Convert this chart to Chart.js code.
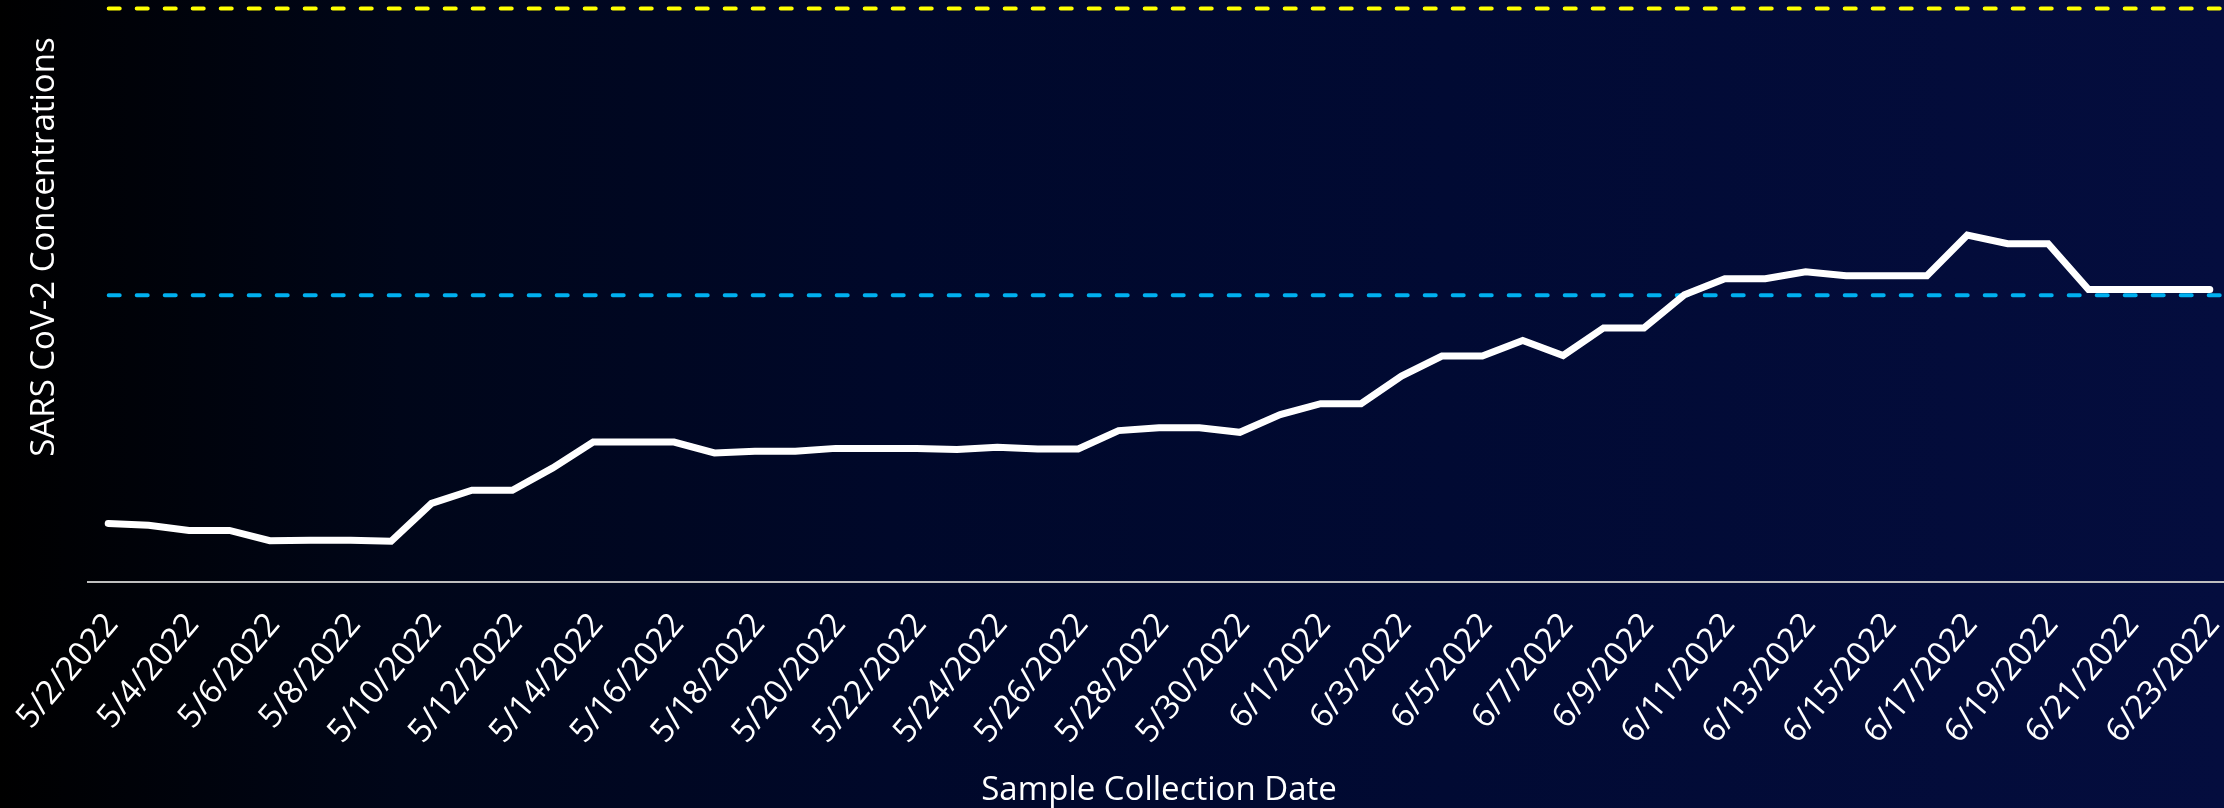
<!DOCTYPE html>
<html>
<head>
<meta charset="utf-8">
<script src="https://cdn.jsdelivr.net/npm/chart.js@4.4.0/dist/chart.umd.min.js"></script>
<style>
  html, body { margin: 0; padding: 0; width: 2224px; height: 808px; overflow: hidden; }
  body {
    position: relative;
    background: linear-gradient(to right, #000000 0%, #000619 18%, #00082a 40%, #010a33 65%, #040d3e 100%);
  }
  #c { position: absolute; left: 0; top: -88px; }
</style>
</head>
<body>
<canvas id="c" width="2230" height="902"></canvas>
<script>
// ---- data ----
const dates = [
  '5/2/2022','5/3/2022','5/4/2022','5/5/2022','5/6/2022','5/7/2022','5/8/2022','5/9/2022',
  '5/10/2022','5/11/2022','5/12/2022','5/13/2022','5/14/2022','5/15/2022','5/16/2022','5/17/2022',
  '5/18/2022','5/19/2022','5/20/2022','5/21/2022','5/22/2022','5/23/2022','5/24/2022','5/25/2022',
  '5/26/2022','5/27/2022','5/28/2022','5/29/2022','5/30/2022','5/31/2022','6/1/2022','6/2/2022',
  '6/3/2022','6/4/2022','6/5/2022','6/6/2022','6/7/2022','6/8/2022','6/9/2022','6/10/2022',
  '6/11/2022','6/12/2022','6/13/2022','6/14/2022','6/15/2022','6/16/2022','6/17/2022','6/18/2022',
  '6/19/2022','6/20/2022','6/21/2022','6/22/2022','6/23/2022'
];
const concentration = [
  10.2, 9.9, 9.0, 9.0, 7.2, 7.3, 7.3, 7.1,
  13.7, 16.0, 16.0, 19.9, 24.4, 24.4, 24.4, 22.5,
  22.8, 22.8, 23.3, 23.3, 23.3, 23.1, 23.5, 23.2,
  23.2, 26.4, 26.9, 26.9, 26.1, 29.2, 31.1, 31.1,
  35.9, 39.4, 39.4, 42.1, 39.5, 44.3, 44.3, 50.1,
  52.9, 52.9, 54.1, 53.4, 53.4, 53.4, 60.5, 59.0,
  59.0, 51.0, 51.0, 51.0, 51.0
];
const tickLabels = [
  '5/2/2022','5/4/2022','5/6/2022','5/8/2022','5/10/2022','5/12/2022','5/14/2022',
  '5/16/2022','5/18/2022','5/20/2022','5/22/2022','5/24/2022','5/26/2022','5/28/2022',
  '5/30/2022','6/1/2022','6/3/2022','6/5/2022','6/7/2022','6/9/2022','6/11/2022',
  '6/13/2022','6/15/2022','6/17/2022','6/19/2022','6/21/2022','6/23/2022'
];
const thresholdValues = [100, 50];
const thresholdColors = ['#FFFF00', '#00B0F0'];

// ---- threshold lines drawn through the y scale ----
const thresholdPlugin = {
  id: 'thresholds',
  beforeDatasetsDraw(chart) {
    const { ctx, chartArea, scales: { x, y } } = chart;
    const x0 = x.getPixelForValue(0);
    thresholdValues.forEach((v, k) => {
      const py = y.getPixelForValue(v);
      ctx.save();
      ctx.strokeStyle = thresholdColors[k];
      ctx.lineWidth = 4;
      ctx.lineCap = 'round';
      ctx.setLineDash([11, 17]);
      ctx.beginPath();
      ctx.moveTo(x0 + 0.5, py);
      ctx.lineTo(chartArea.right, py);
      ctx.stroke();
      ctx.restore();
    });
  }
};

Chart.defaults.font.family = "'Open Sans', 'DejaVu Sans', sans-serif";
Chart.defaults.color = '#FFFFFF';

new Chart(document.getElementById('c'), {
  type: 'line',
  data: {
    labels: dates,
    datasets: [{
      data: concentration,
      borderColor: '#FFFFFF',
      borderWidth: 7,
      borderCapStyle: 'round',
      borderJoinStyle: 'miter',
      pointRadius: 0,
      pointHoverRadius: 0,
      tension: 0,
      fill: false
    }]
  },
  options: {
    responsive: false,
    animation: false,
    events: [],
    layout: { padding: 0 },
    plugins: { legend: { display: false }, tooltip: { enabled: false } },
    scales: {
      x: {
        type: 'category',
        offset: true,
        grid: { display: false, drawTicks: false },
        border: { display: true, color: '#BFBFBF', width: 2 },
        ticks: {
          autoSkip: false,
          minRotation: 50,
          maxRotation: 50,
          padding: 24,
          labelOffset: 4,
          color: '#FFFFFF',
          font: { size: 33 },
          callback: (v, i) => (tickLabels.includes(dates[i]) ? dates[i] : '')
        },
        title: {
          display: true,
          text: 'Sample Collection Date',
          color: '#FFFFFF',
          font: { size: 33 },
          padding: { top: 0, bottom: 4 }
        },
        afterFit: (s) => { s.height = 232; s.paddingLeft = 0; s.paddingRight = 0; }
      },
      y: {
        min: 0,
        max: 116.83,
        grid: { display: false },
        border: { display: false },
        ticks: { display: false },
        title: {
          display: true,
          text: 'SARS CoV-2 Concentrations',
          color: '#FFFFFF',
          font: { size: 33 },
          padding: { top: 25, bottom: 0 }
        },
        afterFit: (s) => { s.width = 88; }
      }
    }
  },
  plugins: [thresholdPlugin]
});
</script>
</body>
</html>
